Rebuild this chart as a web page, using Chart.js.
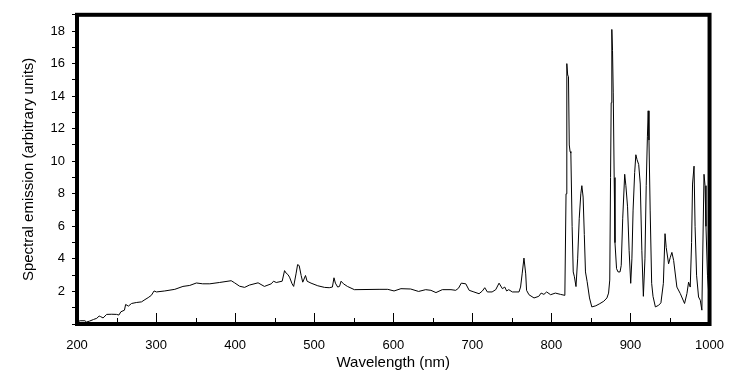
<!DOCTYPE html>
<html>
<head>
<meta charset="utf-8">
<script src="https://cdn.jsdelivr.net/npm/chart.js@4/dist/chart.umd.min.js"></script>
<style>
  html, body { margin: 0; padding: 0; background: #fff; }
  canvas { display: block; }
</style>
</head>
<body>
<canvas id="spectrum" width="730" height="384"></canvas>
<script>
/* Spectral emission vs wavelength */

// wavelength in nm
const wavelength = [
  200, 204, 210, 212, 216, 221, 225, 228, 230, 233, 237.5, 244, 250, 253, 255.5, 260, 261.5, 265, 269, 275, 281.6, 286, 290, 294, 297.5, 300.5,
  311, 323.7, 334, 342.6, 351, 359, 368, 380, 395, 399, 405.7, 412, 418, 429, 437, 445.7, 448.6, 452, 459.5,
  462.5, 464.6, 466.7, 468.8, 472, 474, 477, 479, 481, 483.5, 485.5, 489, 491, 496, 504.5, 513, 519, 523, 525, 526.8, 529.7, 532, 534, 537, 542, 550.8,
  582, 593, 601, 609.7, 622, 632, 641, 647.6, 654, 662, 673, 679, 682.5, 686, 691.7, 696, 702, 708.5, 712.7, 715.7, 719, 725, 729.6, 733.8, 738, 741, 743.4, 746, 750.6, 759, 761, 763, 765.3, 767.5, 768.6, 771.6, 778, 784, 787, 790.5, 794, 799, 805, 811.5,
  817, 818.5, 819.5, 820.6, 821.6, 822.6, 823.6, 824.6, 826.2, 827.6, 829.1, 831.1, 833.2, 835.2, 837.2, 838.5, 840.1, 841.6, 843.1, 845.2, 848.2, 851.1, 856.2, 861.2, 866.3, 870.2, 872.3, 873.8, 874.8, 875.6, 876.4, 877.3, 878.2, 879.4, 880.4, 882.4, 884.3, 886.8, 888.3, 890.2, 892.7, 894.2, 896.3, 898.3, 900.3,
  901.8, 903.3, 905.3, 906.8, 908.3, 910.4, 912.4, 914.4, 916.3, 918.3, 919.9, 921.4, 922.4, 923.4, 924.9, 926.8, 928.5, 931.5, 935.6, 938.5, 941.6, 943.7, 945.2, 948.2, 950.4, 952.4, 954.6, 958.7, 963, 968.4, 971.4, 973.5, 975.6, 977.3, 978.5, 980.4, 981.7, 983.6, 986.1, 988.3, 990.3, 993, 994.3, 995.5, 997.4, 1000
];

// emission (arbitrary units), same order as wavelength
const emission = [
  0.12, 0.2, 0.2, 0.12, 0.18, 0.28, 0.35, 0.49, 0.45, 0.37, 0.59, 0.6, 0.59, 0.55, 0.75, 0.85, 1.2, 1.1, 1.26, 1.32, 1.36, 1.5, 1.62, 1.76, 2.03, 1.97,
  2.03, 2.13, 2.31, 2.37, 2.52, 2.47, 2.47, 2.55, 2.66, 2.54, 2.32, 2.25, 2.39, 2.53, 2.31, 2.47, 2.63, 2.55, 2.63,
  3.28, 3.12, 3.04, 2.88, 2.47, 2.31, 3.08, 3.65, 3.59, 2.98, 2.57, 2.98, 2.63, 2.51, 2.35, 2.25, 2.23, 2.27, 2.84, 2.51, 2.27, 2.31, 2.63, 2.47, 2.31, 2.11,
  2.13, 2.13, 2.03, 2.17, 2.15, 2.0, 2.11, 2.07, 1.93, 2.11, 2.11, 2.07, 2.2, 2.51, 2.47, 2.07, 1.97, 1.86, 2.03, 2.23, 1.97, 1.97, 2.11, 2.51, 2.17, 2.27, 2.03, 2.11, 1.97, 1.97, 2.27, 3.08, 4.05, 3.08, 2.07, 1.8, 1.6, 1.7, 1.9, 1.82, 1.97, 1.8, 1.9, 1.82,
  1.76, 8, 16.0, 15.3, 15.2, 11, 10.6, 10.5, 6, 3.2, 2.9, 2.3, 4, 6.5, 8.0, 8.5, 7.8, 5.5, 3.2, 2.6, 1.6, 1.05, 1.12, 1.25, 1.4, 1.6, 1.9, 2.7, 9, 13.6, 18.1, 16.8, 14.2, 9, 5, 3.4, 3.2, 3.2, 3.6, 6.5, 9.2, 8.5, 7.2, 4.5, 2.5,
  4, 7, 9.3, 10.4, 10.1, 9.8, 8.6, 4.5, 1.7, 4, 8.5, 11.5, 13.1, 11.3, 7, 2.5, 1.7, 1.05, 1.15, 1.3, 2.5, 5.55, 4.7, 3.7, 4.1, 4.4, 3.9, 2.27, 1.87, 1.26, 1.87, 2.57, 2.27, 5, 8.6, 9.7, 6, 3, 1.66, 1.46, 0.85, 9.2, 8.5, 6, 3, 1.2
];

const xMajorTicks = [200, 300, 400, 500, 600, 700, 800, 900, 1000];
const xMinorTicks = [250, 350, 450, 550, 650, 750, 850, 950];
const yLabelTicks = [2, 4, 6, 8, 10, 12, 14, 16, 18];

const points = wavelength.map((w, i) => ({ x: w, y: emission[i] }));

// ticks on the x axis point inward, and the plot has a heavy frame
const frameAndTicks = {
  id: 'frameAndTicks',
  afterDatasetsDraw(chart) {
    const { ctx, chartArea: a, scales: { x } } = chart;
    ctx.save();
    ctx.strokeStyle = '#000';
    ctx.lineWidth = 1;
    ctx.beginPath();
    xMajorTicks.forEach(v => {
      const px = Math.round(x.getPixelForValue(v)) + 0.5;
      ctx.moveTo(px, a.bottom); ctx.lineTo(px, a.bottom - 11);
    });
    xMinorTicks.forEach(v => {
      const px = Math.round(x.getPixelForValue(v)) + 0.5;
      ctx.moveTo(px, a.bottom); ctx.lineTo(px, a.bottom - 6);
    });
    ctx.stroke();
    ctx.lineWidth = 4;
    ctx.strokeRect(a.left, a.top, a.right - a.left, a.bottom - a.top);
    ctx.restore();
  }
};

Chart.defaults.font.family = '"Liberation Sans", Arial, Helvetica, sans-serif';
Chart.defaults.font.size = 13;
Chart.defaults.color = '#000';

new Chart(document.getElementById('spectrum'), {
  type: 'line',
  data: {
    datasets: [{
      data: points,
      borderColor: '#000',
      borderWidth: 1,
      pointRadius: 0,
      tension: 0,
      fill: false
    }]
  },
  options: {
    responsive: false,
    animation: false,
    devicePixelRatio: 1,
    layout: { padding: { left: 0, right: 19, top: 11.6, bottom: 0 } },
    plugins: { legend: { display: false }, tooltip: { enabled: false } },
    scales: {
      x: {
        type: 'linear',
        min: 200,
        max: 1000,
        afterFit: s => { s.height = 60; },
        afterBuildTicks: s => { s.ticks = xMajorTicks.map(v => ({ value: v })); },
        grid: { display: false },
        border: { display: false },
        ticks: {
          padding: 6, maxRotation: 0, autoSkip: false, color: '#000', font: { size: 13 },
          callback: v => String(v)
        },
        title: {
          display: true,
          text: 'Wavelength (nm)',
          color: '#000',
          font: { size: 15 },
          padding: { top: 0, bottom: 12 }
        }
      },
      y: {
        min: 0,
        max: 19,
        afterFit: s => { s.width = 77; },
        grid: { display: true, drawOnChartArea: false, drawTicks: true, tickLength: 5, color: '#000', lineWidth: 1 },
        border: { display: false },
        ticks: {
          stepSize: 1,
          autoSkip: false,
          padding: 7,
          color: '#000',
          font: { size: 13 },
          callback: v => yLabelTicks.includes(v) ? String(v) : ''
        },
        title: {
          display: true,
          text: 'Spectral emission (arbitrary units)',
          color: '#000',
          font: { size: 15 },
          padding: { top: 20, bottom: 0 }
        }
      }
    }
  },
  plugins: [frameAndTicks]
});
</script>
</body>
</html>
